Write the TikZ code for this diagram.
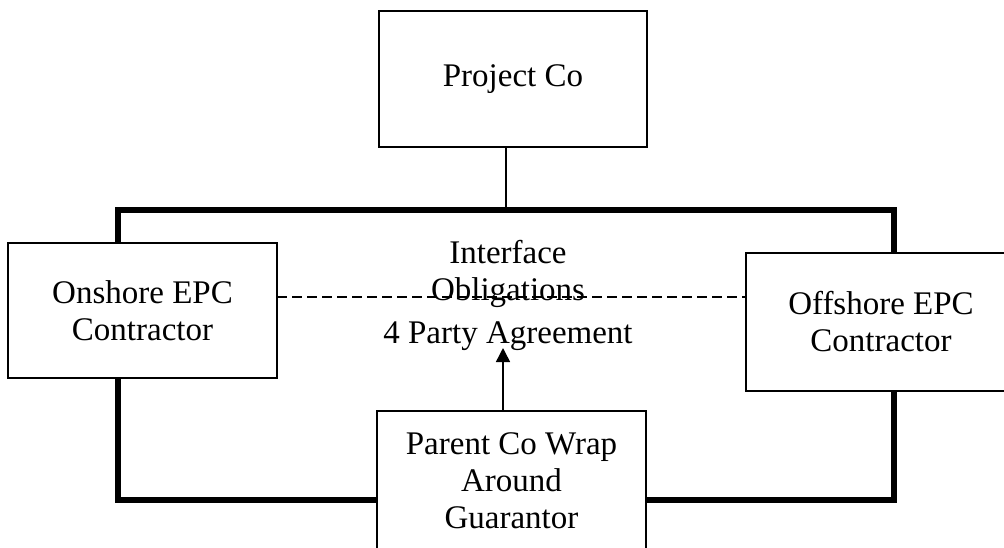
\documentclass[tikz,border=0pt]{standalone}
\usepackage{fontspec}
\setmainfont{Liberation Serif}
\usepackage{tikz}
\usetikzlibrary{arrows.meta,positioning,calc}

\begin{document}
\begin{tikzpicture}[x=0.5pt,y=-0.5pt,>=Triangle,
  party/.style={draw,line width=1pt,fill=white,align=center,inner sep=0pt,
    font=\fontsize{16.5}{18.5}\selectfont},
  label/.style={align=center,inner sep=0pt,font=\fontsize{16.5}{18.5}\selectfont}
]
  \useasboundingbox (0,0) rectangle (1004,547);
  \clip (0,0) rectangle (1004,547);

  % agreement frame
  \node[draw,line width=2.6pt,minimum width=388pt,minimum height=145pt,inner sep=0pt] (frame) at (506,355) {};

  \node[party,minimum width=134pt,minimum height=68pt] (proj) at (513,79) {Project Co};
  \node[party,minimum width=134.5pt,minimum height=67.5pt] (onshore) at (142.5,310.5) {Onshore EPC\\Contractor};
  \node[party,minimum width=135pt,minimum height=69pt] (offshore) at (881,322) {Offshore EPC\\Contractor};
  \node[party,minimum width=134.5pt,minimum height=70pt] (parent) at (511.5,481) {Parent Co Wrap\\Around\\Guarantor};

  \node[label] (iface) at (508,274) {Interface\\Obligations};
  \node[label] (agree) at (508,336) {4 Party Agreement};

  \coordinate (dashL) at (277,297);
  \coordinate (tip) at (503,348);

  \draw[line width=0.6pt] (frame.north) -- (frame.north |- proj.south);
  \draw[line width=0.75pt,dash pattern=on 5pt off 2.5pt] (dashL) -- (dashL -| offshore.west);
  \draw[line width=0.75pt,-{Triangle[width=7pt,length=7pt]}] (tip |- parent.north) -- (tip);
\end{tikzpicture}
\end{document}
